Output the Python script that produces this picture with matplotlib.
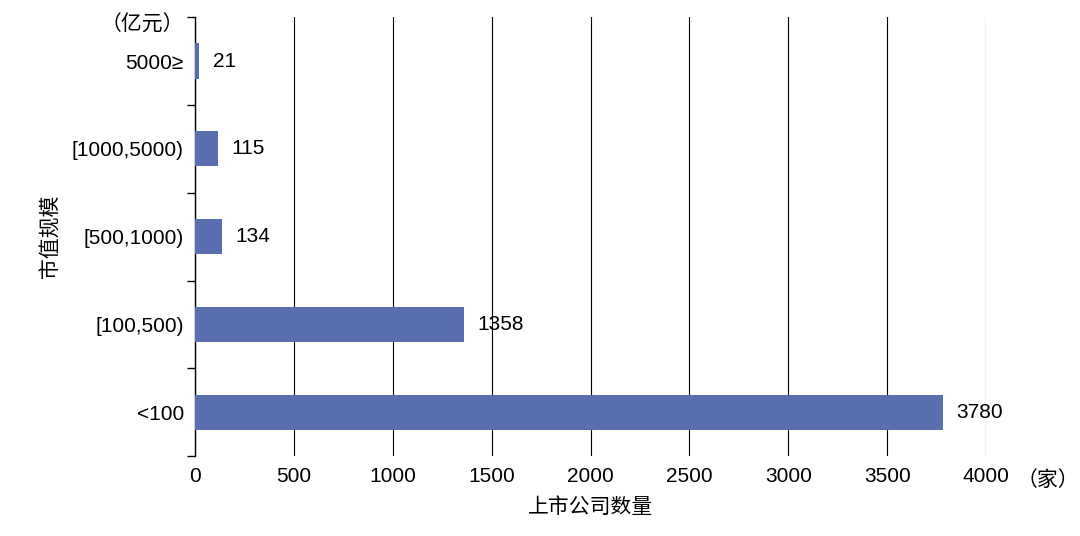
import matplotlib
matplotlib.use("Agg")
import matplotlib.pyplot as plt
import numpy as np

plt.rcParams['font.family'] = ['Liberation Sans', 'Noto Sans CJK SC', 'DejaVu Sans']

categories = ['<100', '[100,500)', '[500,1000)', '[1000,5000)', '5000≥']
values = [3780, 1358, 134, 115, 21]
xticks = [0, 500, 1000, 1500, 2000, 2500, 3000, 3500, 4000]

fig = plt.figure(figsize=(10.8, 5.36), dpi=100)
ax = fig.add_axes([0.1806, 0.149, 0.7324, 0.819])
y = np.arange(len(categories))
ax.barh(y, values, height=0.4, color='#5a6fb0', zorder=3)
ax.set_xlim(0, 4000)
ax.set_ylim(-0.5, len(categories) - 0.5)
ax.set_xticks(xticks)
ax.set_xticklabels([str(t) for t in xticks], fontsize=15)
ax.tick_params(axis='x', length=0, pad=8)
ax.set_yticks(y)
ax.set_yticklabels(categories, fontsize=15)
ax.tick_params(axis='y', which='major', length=0, pad=8)
ax.set_yticks(np.arange(-0.5, len(categories)), minor=True)
ax.tick_params(axis='y', which='minor', length=6, width=1, direction='out')
ax.grid(axis='x', color='black', linewidth=0.8, zorder=0)
for s in ['top', 'right', 'bottom']:
    ax.spines[s].set_visible(False)
ax.spines['left'].set_linewidth(1)
for yi, v in zip(y, values):
    ax.text(v + 70, yi, str(v), va='center', ha='left', fontsize=15)
ax.text(4000, -0.5, '（家）', transform=ax.transData, fontsize=15, ha='left', va='top',
        position=(4055, -0.5))
ax.annotate('（家）', xy=(1.0, 0), xycoords='axes fraction', xytext=(22, -10),
            textcoords='offset points', fontsize=15, ha='left', va='top')
ax.texts[-1].remove() if False else None
ax.annotate('（亿元）', xy=(0, 1), xycoords='axes fraction', xytext=(-8, 2),
            textcoords='offset points', fontsize=15, ha='right', va='top')
ax.set_xlabel('上市公司数量', fontsize=15, labelpad=8)
ax.set_ylabel('市值规模', fontsize=15, labelpad=8)
# remove the first duplicate text
for t in list(ax.texts):
    if t.get_text() == '（家）' and not hasattr(t, 'xyann'):
        t.remove()
fig.savefig('out.png', dpi=100)
